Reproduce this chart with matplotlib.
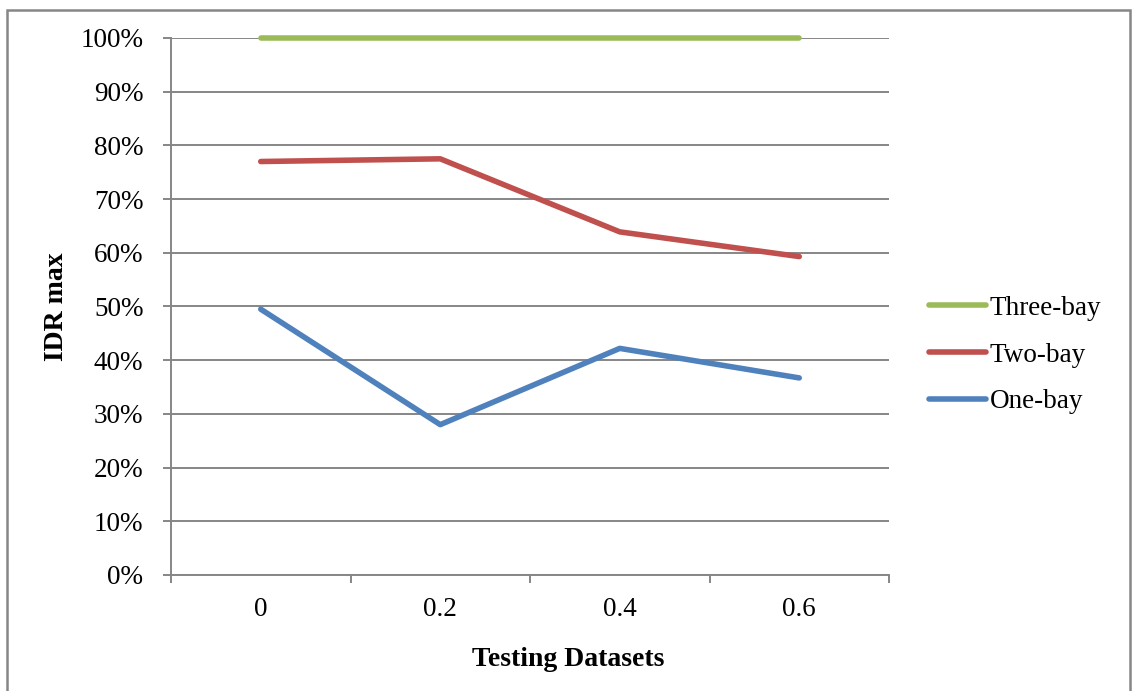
import matplotlib
matplotlib.use('Agg')
import matplotlib.pyplot as plt
from matplotlib.patches import Rectangle

categories = ['0', '0.2', '0.4', '0.6']
three_bay = [100, 100, 100, 100]
two_bay = [77.0, 77.5, 63.9, 59.3]
one_bay = [49.5, 28.0, 42.2, 36.7]

plt.rcParams['font.family'] = 'Liberation Serif'
grid_col = '#868686'

fig = plt.figure(figsize=(11.35, 6.91), dpi=100)
ax = fig.add_axes([171/1135, 1-575/691, 718/1135, 537/691])

x = list(range(len(categories)))
ax.plot(x, three_bay, color='#9BBB59', lw=4, solid_capstyle='round', label='Three-bay', clip_on=False)
ax.plot(x, two_bay, color='#C0504D', lw=4, solid_capstyle='round', label='Two-bay')
ax.plot(x, one_bay, color='#4F81BD', lw=4, solid_capstyle='round', label='One-bay')

ax.set_xlim(-0.5, len(categories) - 0.5)
ax.set_ylim(0, 100)
ax.set_yticks(range(0, 101, 10))
ax.set_yticklabels([f'{v}%' for v in range(0, 101, 10)], fontsize=19.5)
ax.yaxis.grid(True, color=grid_col, lw=1.4)
ax.set_axisbelow(True)

# category labels centred, ticks between categories
ax.set_xticks([i - 0.5 for i in range(len(categories) + 1)])
ax.set_xticklabels([])
ax.set_xticks(x, minor=True)
ax.set_xticklabels(categories, minor=True, fontsize=19.5)
ax.tick_params(axis='x', which='minor', length=0, pad=16)
ax.tick_params(axis='x', which='major', length=5.5, width=1.4, color=grid_col)
ax.tick_params(axis='y', length=5.8, width=1.4, color=grid_col, pad=14)

for s in ['top', 'right']:
    ax.spines[s].set_visible(False)
for s in ['left', 'bottom']:
    ax.spines[s].set_color(grid_col)
    ax.spines[s].set_linewidth(1.4)

ax.set_xlabel('Testing Datasets', fontsize=20, fontweight='bold', labelpad=18)
ax.xaxis.label.set_x((568 - 171) / 718)  # centred on the whole chart, like Excel
ax.set_ylabel('IDR max', fontsize=20, fontweight='bold', labelpad=8)

ax.legend(loc='center left', bbox_to_anchor=(929/1135, 1-355/691),
          bbox_transform=fig.transFigure, frameon=False, fontsize=19.5,
          handlelength=2.1, handletextpad=0.15, labelspacing=0.8, borderpad=0,
          borderaxespad=0)

fig.patches.append(Rectangle((7/1135, -0.05), 1123/1135, 1.05 - 10/691,
                             transform=fig.transFigure, fill=False,
                             edgecolor=grid_col, lw=1.8, clip_on=False))

fig.savefig('out.png', dpi=100)
